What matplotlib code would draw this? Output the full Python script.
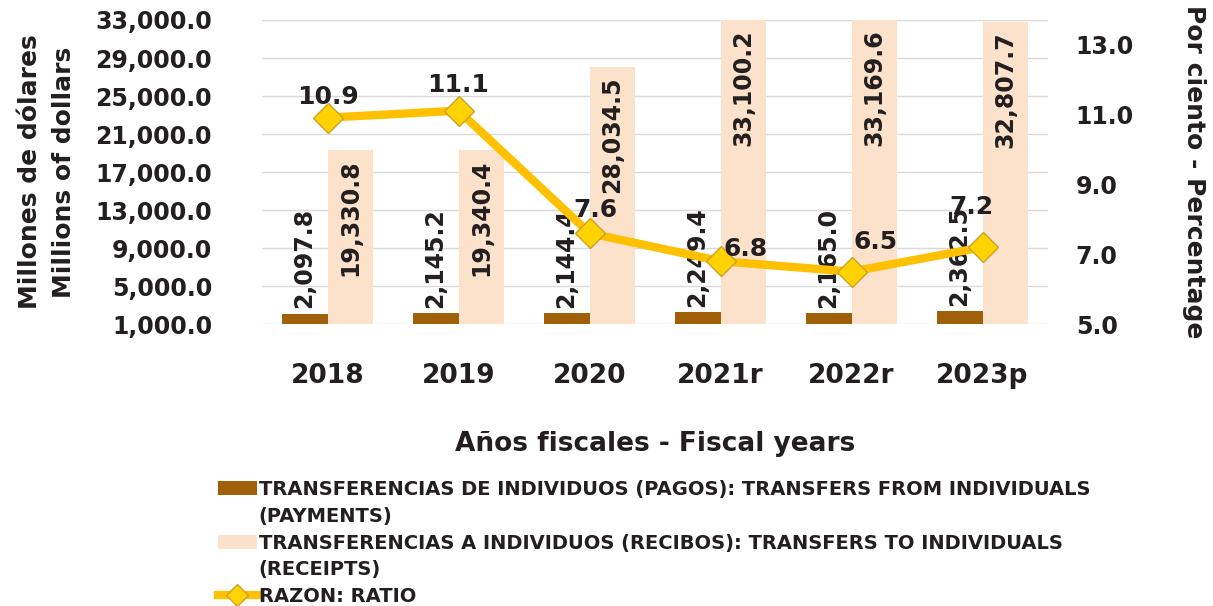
import numpy as np
import matplotlib.pyplot as plt
from matplotlib.patches import Patch
from matplotlib.lines import Line2D

plt.rcParams['font.family'] = ['DejaVu Sans']
plt.rcParams['font.weight'] = 'bold'

# Data
years = ["2018", "2019", "2020", "2021r", "2022r", "2023p"]
payments = [2097.8, 2145.2, 2144.4, 2249.4, 2165.0, 2362.5]
receipts = [19330.8, 19340.4, 28034.5, 33100.2, 33169.6, 32807.7]
ratio = [10.9, 11.1, 7.6, 6.8, 6.5, 7.2]

brown = "#A0600A"
peach = "#FDE2CB"
gold = "#FFC000"
txt = "#231F20"

fig = plt.figure(figsize=(12.13, 6.06), dpi=100)
ax = fig.add_axes([0.216, 0.465, 0.648, 0.502])
x = np.arange(len(years))
w = 0.35

ax.bar(x - w / 2, payments, w, color=brown, zorder=2)
ax.bar(x + w / 2, receipts, w, color=peach, zorder=2)
ax.set_ylim(1000, 33000)
ticks = np.arange(1000, 33001, 4000)
ax.set_yticks(ticks)
ax.set_yticklabels([f"{v:,.1f}" for v in ticks], fontsize=17, color=txt, fontweight='bold')
ax.set_xlim(-0.5, len(years) - 0.5)
ax.set_xticks(x)
ax.set_xticklabels(years, fontsize=19, color=txt, fontweight='bold')
ax.grid(axis='y', color="#D9D9D9", lw=1, zorder=0)
for s in ax.spines.values():
    s.set_visible(False)
ax.set_xlabel("Años fiscales - Fiscal years", fontsize=19, color=txt, fontweight='bold', labelpad=30)

# bar labels
for xi, v in zip(x, payments):
    ax.annotate(f"{v:,.1f}", (xi - w / 2, v), xytext=(0, 4), textcoords="offset points",
                rotation=90, ha='center', va='bottom', fontsize=17, color=txt,
                fontweight='bold', zorder=5)
for xi, v in zip(x, receipts):
    top = min(v, 33000)
    ax.annotate(f"{v:,.1f}", (xi + w / 2, top), xytext=(0, -7), textcoords="offset points",
                rotation=90, ha='center', va='top', fontsize=17, color=txt,
                fontweight='bold', zorder=5)

# ratio line
ax2 = ax.twinx()
ax2.plot(x, ratio, color=gold, lw=6, marker='D', markersize=15,
         markerfacecolor="#FFD200", markeredgecolor="#C9A227", markeredgewidth=1, zorder=4)
ax2.set_ylim(5.0, 13.69)
ax2.set_yticks([5, 7, 9, 11, 13])
ax2.set_yticklabels(["5.0", "7.0", "9.0", "11.0", "13.0"], fontsize=17, color=txt, fontweight='bold')
for s in ax2.spines.values():
    s.set_visible(False)
ax2.set_ylabel("Por ciento - Percentage", fontsize=18, color=txt, fontweight='bold',
               rotation=-90, labelpad=52)

ax.tick_params(axis='x', length=0, pad=28)
ax.tick_params(axis='y', length=0, pad=36)
ax2.tick_params(axis='y', length=0, pad=20)
ax.set_ylabel("Millones de dólares\nMillions of dollars", fontsize=18, color=txt,
              fontweight='bold', labelpad=14, linespacing=1.5)

label_offsets = [(0, 6), (0, 10), (4, 8), (18, 0), (17, 13), (-8, 20)]
for xi, v, off in zip(x, ratio, label_offsets):
    ax2.annotate(f"{v:.1f}", (xi, v), xytext=off, textcoords="offset points",
                 ha='center', va='bottom', fontsize=18, color=txt, fontweight='bold', zorder=6)

blank = Patch(facecolor='none', edgecolor='none')
handles = [
    Patch(facecolor=brown), blank,
    Patch(facecolor=peach), blank,
    Line2D([0], [0], color=gold, lw=6, marker='D', markersize=11,
           markerfacecolor="#FFD200", markeredgecolor="#C9A227"),
]
labels = [
    "TRANSFERENCIAS DE INDIVIDUOS (PAGOS): TRANSFERS FROM INDIVIDUALS",
    "(PAYMENTS)",
    "TRANSFERENCIAS A INDIVIDUOS (RECIBOS): TRANSFERS TO INDIVIDUALS",
    "(RECEIPTS)",
    "RAZON: RATIO",
]
leg = fig.legend(handles, labels, loc='upper left', bbox_to_anchor=(218 / 1213, 1 - 480 / 606),
                 frameon=False, fontsize=14, handlelength=2, handletextpad=0.1,
                 labelspacing=0.4, borderaxespad=0, borderpad=0)
for t in leg.get_texts():
    t.set_color(txt)
    t.set_fontweight('bold')

fig.savefig("out.png", dpi=100)
